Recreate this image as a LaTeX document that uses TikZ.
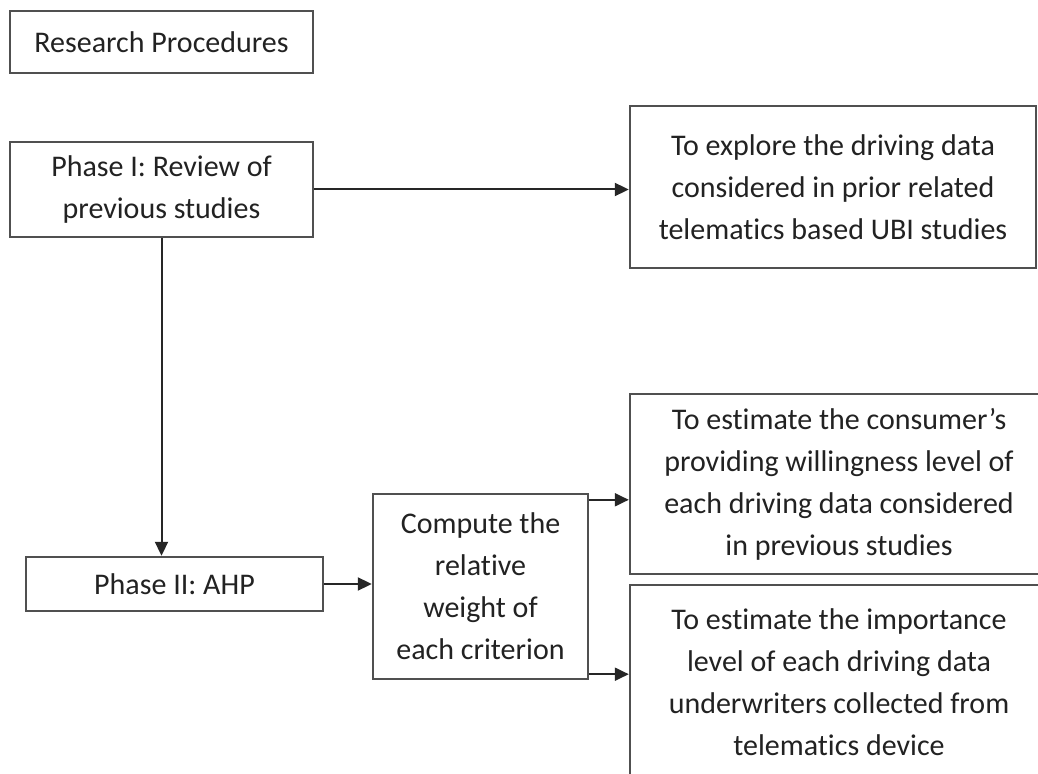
\documentclass[tikz,border=0pt]{standalone}
\usepackage{fontspec}
\setmainfont[RawFeature={-liga;-clig;-dlig;-calt}]{Carlito}
\usetikzlibrary{arrows.meta,positioning,calc}
\definecolor{boxline}{HTML}{505050}
\definecolor{txt}{HTML}{222222}
\tikzset{
  procbox/.style={
    draw=boxline, line width=1.2pt, fill=white, align=center,
    font=\fontsize{15}{21}\selectfont, text=txt, inner sep=0pt
  },
  arrow/.style={-{Triangle[length=7pt,width=6.5pt]}, line width=1pt, black!85},
}

\begin{document}
\begin{tikzpicture}[x=0.5pt,y=-0.5pt]
  \useasboundingbox (0,0) rectangle (1038,774);
  \clip (0,0) rectangle (1038,774);

  \node[procbox, minimum width=151.5pt, minimum height=31pt] (title) at (161.5,42) {Research Procedures};
  \node[procbox, minimum width=151.5pt, minimum height=47.5pt] (p1) at (161.5,189.5) {Phase I: Review of\\previous studies};
  \node[procbox, minimum width=203pt, minimum height=81pt] (explore) at (833,187)
    {To explore the driving data\\considered in prior related\\telematics based UBI studies};
  \node[procbox, minimum width=148.5pt, minimum height=27pt] (p2) at (174.5,584) {Phase II: AHP};
  \node[procbox, minimum width=107.5pt, minimum height=92.5pt] (comp) at (480.5,586.5)
    {Compute the\\relative\\weight of\\each criterion};
  \node[procbox, minimum width=209pt, minimum height=90pt] (cons) at (839,484)
    {To estimate the consumer’s\\providing willingness level of\\each driving data considered\\in previous studies};
  \node[procbox, minimum width=209pt, minimum height=97pt] (imp) at (839,682)
    {To estimate the importance\\level of each driving data\\underwriters collected from\\telematics device};

  \draw[arrow] (p1.east) -- (p1.east -| explore.west);
  \draw[arrow] (p1.south) -- (p1.south |- p2.north);
  \draw[arrow] (p2.east) -- (p2.east -| comp.west);
  \draw[arrow] ($(comp.north east)+(0,7)$) coordinate (c1) -- (c1 -| cons.west);
  \draw[arrow] ($(comp.south east)+(0,-6)$) coordinate (c2) -- (c2 -| imp.west);
\end{tikzpicture}
\end{document}
